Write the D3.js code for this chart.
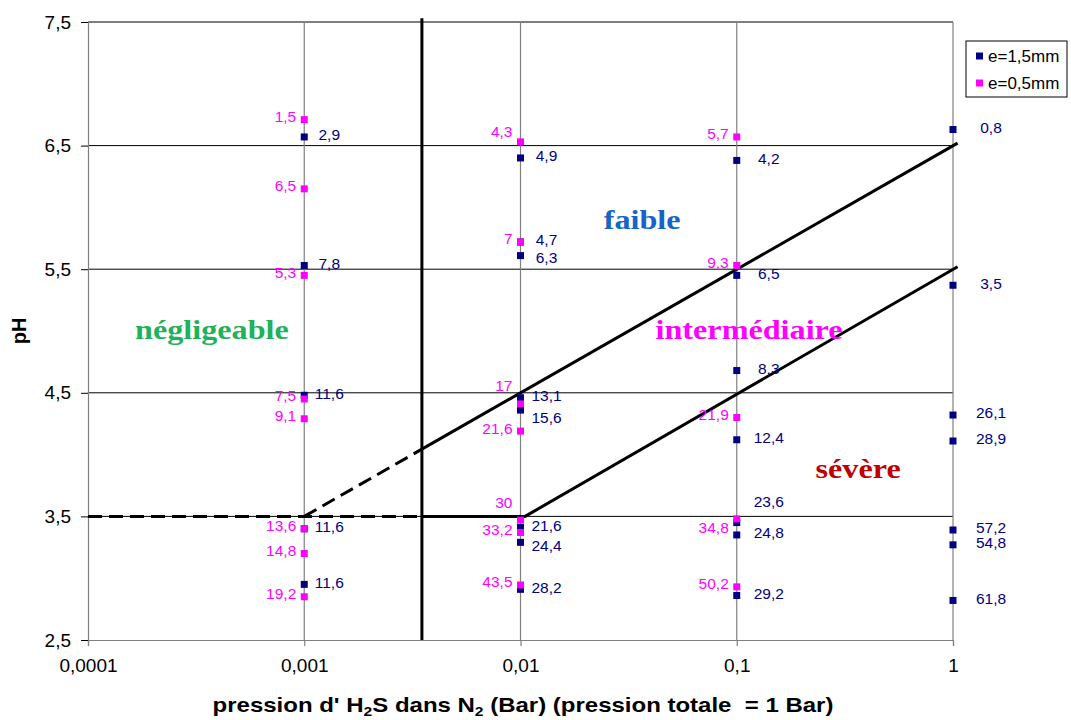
<!DOCTYPE html>
<html>
<head>
<meta charset="utf-8">
<script src="https://cdn.jsdelivr.net/npm/d3@7"></script>
<style>
  body { margin: 0; background: #fff; }
</style>
</head>
<body>
<div id="chart"></div>
<script>
var width = 1071;
var height = 720;

// H2S partial pressure (bar) of each measured point, pH and label (corrosion value)
var thickX = [0.001, 0.001, 0.001, 0.001, 0.001,
    0.01, 0.01, 0.01, 0.01, 0.01, 0.01, 0.01, 0.01,
    0.1, 0.1, 0.1, 0.1, 0.1, 0.1, 0.1,
    1, 1, 1, 1, 1, 1, 1];
var thickPH = [6.57, 5.53, 4.48, 3.40, 2.95,
    6.40, 5.72, 5.61, 4.46, 4.36, 3.41, 3.29, 2.91,
    6.38, 5.45, 4.68, 4.12, 3.45, 3.35, 2.86,
    6.63, 5.37, 4.32, 4.11, 3.39, 3.27, 2.82];
var thickLabels = ["2,9", "7,8", "11,6", "11,6", "11,6",
    "4,9", "4,7", "6,3", "13,1", "15,6", "21,6", "24,4", "28,2",
    "4,2", "6,5", "8,3", "12,4", "23,6", "24,8", "29,2",
    "0,8", "3,5", "26,1", "28,9", "57,2", "54,8", "61,8"];

var thinX = [0.001, 0.001, 0.001, 0.001, 0.001, 0.001, 0.001, 0.001,
    0.01, 0.01, 0.01, 0.01, 0.01, 0.01, 0.01,
    0.1, 0.1, 0.1, 0.1, 0.1];
var thinPH = [6.71, 6.15, 5.45, 4.45, 4.29, 3.40, 3.20, 2.85,
    6.53, 5.72, 4.41, 4.19, 3.47, 3.37, 2.945,
    6.57, 5.53, 4.30, 3.48, 2.93];
var thinLabels = ["1,5", "6,5", "5,3", "7,5", "9,1", "13,6", "14,8", "19,2",
    "4,3", "7", "17", "21,6", "30", "33,2", "43,5",
    "5,7", "9,3", "21,9", "34,8", "50,2"];

var xTicks = [0.0001, 0.001, 0.01, 0.1, 1];
var yTicks = [2.5, 3.5, 4.5, 5.5, 6.5, 7.5];
var seriesNames = ["e=1,5mm", "e=0,5mm"];

// domain boundaries (drawn by hand on the original)
var limitP = 0.0035;
var boundaries = [
    { dash: true,  pts: [[0.0001, 3.5], [limitP, 3.5]] },
    { dash: true,  pts: [[0.001, 3.5], [limitP, 6.5 + Math.log10(limitP)]] },
    { dash: false, pts: [[limitP, 6.5 + Math.log10(limitP)], [1.05, 6.52]] },
    { dash: false, pts: [[limitP, 3.5], [0.0105, 3.5], [1.05, 5.52]] }
];
var zones = [
    { name: "négligeable", x: 0.000374, ph: 5.0, color: "#1FB25A" },
    { name: "faible", x: 0.0365, ph: 5.89, color: "#1565C9" },
    { name: "intermédiaire", x: 0.114, ph: 5.0, color: "#FF00FF" },
    { name: "sévère", x: 0.364, ph: 3.88, color: "#C00000" }
];

var navy = "#000080";
var pink = "#FF00FF";
var sans = "'Liberation Sans', Arial, sans-serif";

var x = d3.scaleLog().domain([0.0001, 1]).range([88, 953]);
var y = d3.scaleLinear().domain([2.5, 7.5]).range([640, 22]);

// label tweaks where the original labels were dragged around
var labelDx = { "0.001": 25, "0.01": 26, "0.1": 32, "1": 38 };
var nudge = { "thin17": -15, "thin30": -15, "thin34,8": 12, "thin4,3": -7,
    "thick23,6": -19, "thick15,6": 9, "thick24,4": 5, "thick6,3": 4 };

var svg = d3.select("#chart").append("svg")
    .attr("width", width)
    .attr("height", height)
    .attr("font-family", sans);

// horizontal gridlines
svg.append("g").selectAll("line")
    .data(yTicks.slice(1))
    .enter().append("line")
    .attr("x1", x(0.0001)).attr("x2", x(1))
    .attr("y1", function (d) { return y(d); })
    .attr("y2", function (d) { return y(d); })
    .attr("stroke", "#000").attr("stroke-width", 1);

// vertical gridlines
svg.append("g").selectAll("line")
    .data(xTicks.slice(1))
    .enter().append("line")
    .attr("x1", function (d) { return x(d); })
    .attr("x2", function (d) { return x(d); })
    .attr("y1", y(7.5)).attr("y2", y(2.5))
    .attr("stroke", "#808080").attr("stroke-width", 1.2);

// axes
var xAxis = d3.axisBottom(x).tickValues(xTicks).tickSize(6).tickPadding(13)
    .tickFormat(function (d) { return String(d).replace(".", ","); });
var gx = svg.append("g").attr("transform", "translate(0," + y(2.5) + ")").call(xAxis);
gx.select(".domain").attr("stroke", "#808080").attr("stroke-width", 1.2);
gx.selectAll(".tick line").attr("stroke", "#808080").attr("stroke-width", 1.2);
gx.selectAll("text").attr("font-size", 19).attr("fill", "#000").attr("font-family", sans);

var yAxis = d3.axisLeft(y).tickValues(yTicks).tickSize(7).tickPadding(10)
    .tickFormat(function (d) { return d3.format(".1f")(d).replace(".", ","); });
var gy = svg.append("g").attr("transform", "translate(" + x(0.0001) + ",0)").call(yAxis);
gy.select(".domain").attr("stroke", "#808080").attr("stroke-width", 1.2);
gy.selectAll(".tick line").attr("stroke", "#000");
gy.selectAll("text").attr("font-size", 19).attr("fill", "#000").attr("font-family", sans);

// boundary lines
var line = d3.line()
    .x(function (d) { return x(d[0]); })
    .y(function (d) { return y(d[1]); });
svg.append("g").selectAll("path")
    .data(boundaries)
    .enter().append("path")
    .attr("d", function (d) { return line(d.pts); })
    .attr("fill", "none")
    .attr("stroke", "#000")
    .attr("stroke-width", 3)
    .attr("stroke-dasharray", function (d) { return d.dash ? "14,7" : null; });

svg.append("line")
    .attr("x1", x(limitP)).attr("x2", x(limitP))
    .attr("y1", y(7.53)).attr("y2", y(2.5))
    .attr("stroke", "#000").attr("stroke-width", 3);

// zone names
svg.append("g").selectAll("text")
    .data(zones)
    .enter().append("text")
    .attr("transform", function (d) {
        return "translate(" + x(d.x) + "," + y(d.ph) + ") scale(1.15,1)";
    })
    .attr("text-anchor", "middle")
    .attr("dy", "0.3em")
    .attr("font-family", "'Liberation Serif', 'Times New Roman', serif")
    .attr("font-weight", "bold")
    .attr("font-size", 28)
    .attr("fill", function (d) { return d.color; })
    .text(function (d) { return d.name; });

function makeSeries(xs, phs, labels) {
    return xs.map(function (p, i) { return { p: p, ph: phs[i], label: labels[i] }; });
}
var thick = makeSeries(thickX, thickPH, thickLabels);
var thin = makeSeries(thinX, thinPH, thinLabels);

function drawMarkers(set, color) {
    svg.append("g").selectAll("rect")
        .data(set)
        .enter().append("rect")
        .attr("x", function (d) { return x(d.p) - 3.5; })
        .attr("y", function (d) { return y(d.ph) - 3.5; })
        .attr("width", 7).attr("height", 7)
        .attr("fill", color);
}
drawMarkers(thick, navy);
drawMarkers(thin, pink);

// data labels
svg.append("g").selectAll("text")
    .data(thick)
    .enter().append("text")
    .attr("x", function (d) { return x(d.p) + labelDx[String(d.p)]; })
    .attr("y", function (d) { return y(d.ph) - 2 + (nudge["thick" + d.label] || 0); })
    .attr("dy", "0.35em")
    .attr("text-anchor", "middle")
    .attr("font-size", 15.5)
    .attr("fill", navy)
    .text(function (d) { return d.label; });

svg.append("g").selectAll("text")
    .data(thin)
    .enter().append("text")
    .attr("x", function (d) { return x(d.p) - 8; })
    .attr("y", function (d) { return y(d.ph) - 3 + (nudge["thin" + d.label] || 0); })
    .attr("dy", "0.35em")
    .attr("text-anchor", "end")
    .attr("font-size", 15.5)
    .attr("fill", pink)
    .text(function (d) { return d.label; });

// axis titles
svg.append("text")
    .attr("transform", "translate(26," + y(5) + ") rotate(-90)")
    .attr("text-anchor", "middle")
    .attr("font-size", 20)
    .attr("font-weight", "bold")
    .text("pH");

var title = svg.append("text")
    .attr("transform", "translate(523,712) scale(1.2,1)")
    .attr("text-anchor", "middle")
    .attr("font-size", 20)
    .attr("font-weight", "bold");
title.append("tspan").text("pression d' H");
title.append("tspan").attr("font-size", 13).attr("dy", 4).text("2");
title.append("tspan").attr("dy", -4).text("S dans N");
title.append("tspan").attr("font-size", 13).attr("dy", 4).text("2");
title.append("tspan").attr("dy", -4).text(" (Bar) (pression totale \u00a0= 1 Bar)");

// legend
var legend = svg.append("g").attr("transform", "translate(966,41)");
legend.append("rect")
    .attr("width", 101).attr("height", 56)
    .attr("fill", "#fff").attr("stroke", "#000").attr("stroke-width", 1);
legend.selectAll("g.item")
    .data(seriesNames)
    .enter().append("g")
    .attr("class", "item")
    .attr("transform", function (d, i) { return "translate(0," + (15 + i * 27) + ")"; })
    .each(function (d, i) {
        var g = d3.select(this);
        g.append("rect").attr("x", 10).attr("y", -3.5).attr("width", 7).attr("height", 7)
            .attr("fill", i === 0 ? navy : pink);
        g.append("text").attr("x", 22).attr("dy", "0.35em")
            .attr("font-size", 17).text(d);
    });
</script>
</body>
</html>
